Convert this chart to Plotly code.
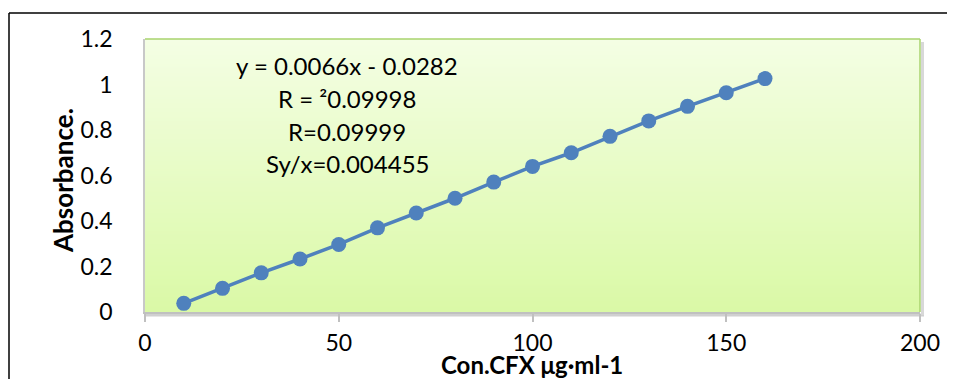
import plotly.graph_objects as go

conc = [10, 20, 30, 40, 50, 60, 70, 80, 90, 100, 110, 120, 130, 140, 150, 160]
absorb = [0.038, 0.104, 0.172, 0.233, 0.297, 0.370, 0.435, 0.500, 0.571,
          0.640, 0.700, 0.772, 0.840, 0.904, 0.964, 1.026]
x_ticks = [0, 50, 100, 150, 200]
y_ticks = [0, 0.2, 0.4, 0.6, 0.8, 1.0, 1.2]
y_tick_text = ["0", "0.2", "0.4", "0.6", "0.8", "1", "1.2"]
eq_lines = ["y = 0.0066x - 0.0282", "R = \u00b20.09998", "R=0.09999", "Sy/x=0.004455"]

FONT = "Lato"
OFF = 8  # page body margin
W, H = 955 - OFF, 379 - OFF
L, R, T, B = 145 - OFF, 35, 39 - OFF, 67
pw, ph = W - L - R, H - T - B

def px_x(p):  # screen pixel -> paper
    return (p - OFF - L) / pw

def px_y(p):
    return (H - B - (p - OFF)) / ph

fig = go.Figure()

# background gradient of plot area
fig.add_trace(go.Heatmap(
    x=[x_ticks[0], x_ticks[-1]], y=[y_ticks[0], y_ticks[-1]],
    z=[[0, 0], [1, 1]], zsmooth="best", showscale=False, hoverinfo="skip",
    colorscale=[[0, "#daf9a6"], [1, "#f4fee4"]],
))

fig.add_trace(go.Scatter(
    x=conc, y=absorb, mode="lines+markers",
    line=dict(color="#4f81bd", width=3.5),
    marker=dict(color="#4f81bd", size=15),
    showlegend=False,
))

shapes = [
    # shadow
    dict(type="line", xref="paper", yref="paper", x0=0, x1=px_x(924), y0=px_y(315), y1=px_y(315),
         line=dict(color="#d0d0d0", width=3), layer="below"),
    dict(type="line", xref="paper", yref="paper", x0=px_x(922.5), x1=px_x(922.5), y0=px_y(315), y1=1 - 3 / ph,
         line=dict(color="#d8d8d8", width=3), layer="below"),
    # green border top & right
    dict(type="line", xref="paper", yref="paper", x0=0, x1=1, y0=1, y1=1,
         line=dict(color="#a9d36e", width=1.5)),
    dict(type="line", xref="paper", yref="paper", x0=1, x1=1, y0=0, y1=1,
         line=dict(color="#a9d36e", width=1.5)),
    # outer chart border (cropped)
    dict(type="line", xref="paper", yref="paper", x0=px_x(9), x1=px_x(960), y0=px_y(13), y1=px_y(13),
         line=dict(color="#000000", width=1.5)),
    dict(type="line", xref="paper", yref="paper", x0=px_x(9), x1=px_x(9), y0=px_y(13), y1=px_y(385),
         line=dict(color="#000000", width=1.5)),
]

annotations = []
for txt, py in zip(eq_lines, [65, 98, 131, 163]):
    annotations.append(dict(text=txt, xref="paper", yref="paper", x=px_x(347), y=px_y(py),
                            xanchor="center", yanchor="middle", showarrow=False,
                            font=dict(family=FONT, size=24, color="#000000")))
annotations.append(dict(text="<b>Con.CFX \u03bcg\u00b7ml-1</b>", xref="paper", yref="paper",
                        x=px_x(532), y=px_y(364), xanchor="center", yanchor="middle", showarrow=False,
                        font=dict(family=FONT, size=24, color="#000000")))
annotations.append(dict(text="<b>Absorbance.</b>", xref="paper", yref="paper",
                        x=px_x(63), y=px_y(181), xanchor="center", yanchor="middle", showarrow=False,
                        textangle=-90, font=dict(family=FONT, size=26, color="#000000")))

fig.update_layout(
    width=W, height=H,
    margin=dict(l=L, r=R, t=T, b=B),
    paper_bgcolor="#ffffff", plot_bgcolor="#ffffff",
    font=dict(family=FONT, size=23, color="#000000"),
    shapes=shapes, annotations=annotations,
    showlegend=False,
)
fig.update_xaxes(range=[x_ticks[0], x_ticks[-1]], tickvals=x_ticks, showgrid=False, zeroline=False,
                 showline=True, linecolor="#c0c0c0", linewidth=2,
                 ticks="outside", ticklen=8, tickcolor="#c0c0c0", tickwidth=1.5,
                 ticklabelstandoff=1, tickfont=dict(family=FONT, size=23))
fig.update_yaxes(range=[y_ticks[0], y_ticks[-1]], tickvals=y_ticks, ticktext=y_tick_text,
                 showgrid=False, zeroline=False, showline=True, linecolor="#c8c8c8", linewidth=1.5,
                 ticks="", ticklabelstandoff=26, tickfont=dict(family=FONT, size=23))

fig.write_html("out.html")
